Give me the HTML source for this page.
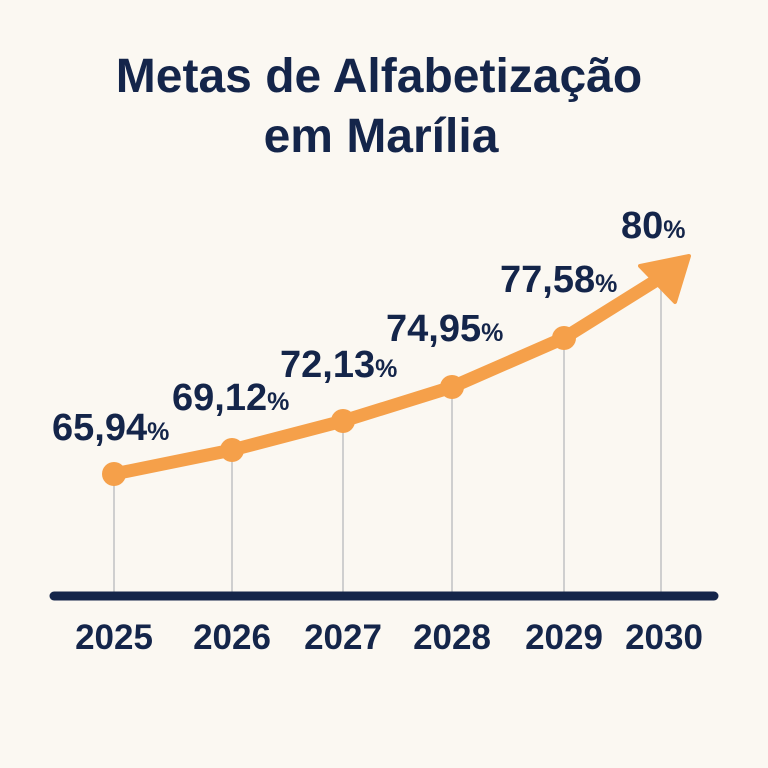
<!DOCTYPE html>
<html><head><meta charset="utf-8"><style>
html,body{margin:0;padding:0;background:#fbf8f2;}
svg{display:block}
text{font-family:"Liberation Sans","DejaVu Sans",sans-serif;font-weight:bold;fill:#14254a}
</style></head><body>
<svg width="768" height="768" viewBox="0 0 768 768">
<rect width="768" height="768" fill="#fbf8f2"/>
<text x="379" y="92" font-size="48" text-anchor="middle">Metas de Alfabetização</text>
<text x="381" y="152" font-size="48" text-anchor="middle">em Marília</text>
<g stroke="#cfcfcf" stroke-width="2">
<line x1="114" y1="474" x2="114" y2="595"/>
<line x1="232" y1="450" x2="232" y2="595"/>
<line x1="343" y1="421" x2="343" y2="595"/>
<line x1="452" y1="387" x2="452" y2="595"/>
<line x1="564" y1="338" x2="564" y2="595"/>
<line x1="661" y1="285" x2="661" y2="595"/>
</g>
<polyline points="114,474 232,450 343,421 452,387 564,338 660,278" fill="none" stroke="#f5a04a" stroke-width="13" stroke-linejoin="round" stroke-linecap="round"/>
<polygon points="689,256 640,266 675,302" fill="#f5a04a" stroke="#f5a04a" stroke-width="4" stroke-linejoin="round"/>
<g fill="#f5a04a">
<circle cx="114" cy="474" r="12"/><circle cx="232" cy="450" r="12"/><circle cx="343" cy="421" r="12"/><circle cx="452" cy="387" r="12"/><circle cx="564" cy="338" r="12"/>
</g>
<line x1="54" y1="596" x2="714" y2="596" stroke="#14254a" stroke-width="9" stroke-linecap="round"/>
<g font-size="35" text-anchor="middle">
<text x="114" y="649">2025</text><text x="232" y="649">2026</text><text x="343" y="649">2027</text><text x="452" y="649">2028</text><text x="564" y="649">2029</text><text x="664" y="649">2030</text>
</g>
<g font-size="38">
<text x="52" y="440">65,94<tspan font-size="25">%</tspan></text>
<text x="172" y="410">69,12<tspan font-size="25">%</tspan></text>
<text x="280" y="377">72,13<tspan font-size="25">%</tspan></text>
<text x="386" y="341">74,95<tspan font-size="25">%</tspan></text>
<text x="500" y="292">77,58<tspan font-size="25">%</tspan></text>
<text x="621" y="238">80<tspan font-size="25">%</tspan></text>
</g>
</svg>
</body></html>
